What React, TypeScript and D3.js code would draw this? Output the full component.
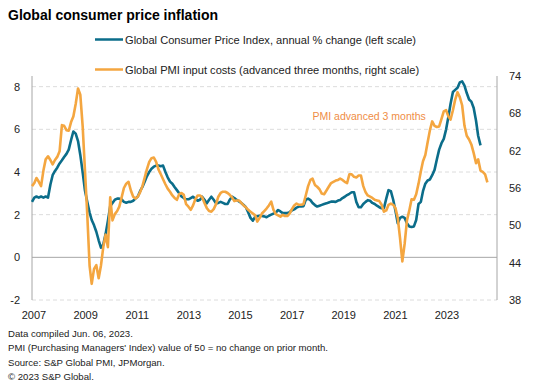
import React from "react";
import * as d3 from "d3";

// monthly, Jan 2007 - Apr 2023 (annual % change, left scale)
const cpiValues = [
  2.6, 2.8, 2.85, 2.8, 2.85, 2.8, 2.85, 2.8, 3.4, 3.85, 4.05, 4.2,
  4.4, 4.55, 4.7, 4.85, 5.05, 5.5, 5.9, 5.8, 5.45, 4.8, 4.0, 3.15,
  2.6, 2.1, 1.75, 1.5, 1.2, 0.8, 0.45, 0.6, 1.1, 1.7, 2.4, 2.55,
  2.7, 2.75, 2.75, 2.72, 2.6, 2.56, 2.6, 2.6, 2.65, 2.75, 2.85, 3.1,
  3.3, 3.55, 3.8, 4.0, 4.15, 4.25, 4.3, 4.3, 4.27, 4.3, 4.0, 3.75,
  3.55, 3.45, 3.3, 3.15, 3.0, 2.85, 2.78, 2.72, 2.72, 2.78, 2.84, 2.75,
  2.65, 2.7, 2.84, 2.7, 2.53, 2.7, 2.84, 2.7, 2.53, 2.55, 2.6, 2.55,
  2.5, 2.5, 2.7, 2.84, 2.78, 2.69, 2.62, 2.55, 2.45, 2.35, 2.1, 1.85,
  1.72, 1.9, 1.93, 1.95, 1.94, 1.92, 1.88, 1.95, 2.0, 2.05, 2.1, 2.22,
  2.15, 2.07, 2.07, 2.07, 2.12, 2.2, 2.25, 2.33, 2.38, 2.38, 2.4, 2.7,
  2.75, 2.68, 2.55, 2.45, 2.38, 2.42, 2.46, 2.5, 2.53, 2.57, 2.61, 2.61,
  2.6, 2.66, 2.69, 2.78, 2.84, 2.92, 2.98, 3.05, 3.05, 2.6, 2.35, 2.35,
  2.5, 2.6, 2.68, 2.65, 2.55, 2.5, 2.42, 2.35, 2.3, 2.3, 2.75, 3.15,
  3.1, 2.7, 2.2, 1.6, 1.85, 1.9, 1.85, 1.6, 1.45, 1.42, 1.45, 1.75,
  2.5, 2.6, 3.1, 3.45, 3.6, 3.65, 3.85, 4.1, 4.6, 5.05, 5.35, 5.55,
  6.0, 6.6, 7.2, 7.75, 7.85, 7.95, 8.2, 8.25, 8.05, 7.7, 7.4, 7.3,
  7.0, 6.4, 5.7, 5.25,
];

// monthly, Jan 2007 - Jul 2023 (PMI input costs advanced 3 months, right scale)
const pmiValues = [
  56.3, 56.8, 57.6, 57.0, 56.3, 58.8, 60.6, 61.1, 60.5, 59.8, 60.5, 61.0,
  61.9, 66.1, 66.0, 65.3, 65.2, 66.6, 67.5, 69.5, 72.0, 71.0, 66.0, 59.0,
  51.8, 43.5, 40.6, 43.0, 43.6, 41.5, 43.5, 46.5, 48.5, 46.5, 54.5, 50.8,
  51.8, 52.3, 53.0, 54.5, 56.0, 56.7, 57.0, 55.6, 54.6, 54.3, 54.6, 55.3,
  56.3, 57.7, 59.0, 60.2, 60.8, 60.9, 60.2, 59.0, 58.2, 57.4, 56.6, 55.9,
  55.4, 54.8, 54.4, 54.1, 55.0, 55.2, 54.9, 53.4, 53.0, 52.5, 53.2, 54.2,
  54.8, 54.8, 54.5, 53.6, 52.8, 52.3, 52.2, 52.6, 53.4, 54.6, 55.2, 55.4,
  55.4, 55.2, 54.9, 54.5, 53.9, 54.0, 54.0, 53.6, 53.2, 52.9, 52.5, 52.2,
  51.9, 51.6, 50.6, 51.2, 51.9, 52.3, 52.7, 53.2, 53.8, 52.5, 51.8, 51.6,
  51.4, 51.7, 51.5, 51.5, 51.9, 52.6, 53.2, 53.5, 53.3, 53.3, 53.4, 54.8,
  56.3, 57.3, 57.5, 56.5, 56.2, 55.8, 55.1, 55.0, 55.6, 56.2, 56.8, 57.0,
  57.2, 57.3, 57.5, 57.3, 57.0, 56.8, 58.2, 58.2, 57.8, 57.7, 58.0, 58.0,
  56.3, 55.3, 54.8, 54.6, 54.4, 54.1, 54.0, 53.9, 53.3, 52.2, 52.4, 53.3,
  53.5, 53.3, 52.8, 51.2, 48.0, 44.2, 47.0, 50.8, 52.4, 54.2, 54.1, 55.0,
  56.7, 58.7, 60.3, 61.3, 63.3, 65.3, 66.7, 66.0, 65.8, 65.9, 67.1, 68.3,
  68.5, 67.5, 67.0, 68.5, 70.2, 71.4, 70.6, 69.3, 66.0, 64.4, 63.8, 63.0,
  61.6, 60.0, 60.6, 58.8, 58.6, 58.2, 56.9,
];

const yearLabels = ["2007", "2009", "2011", "2013", "2015", "2017", "2019", "2021", "2023"];
const leftTicks = [-2, 0, 2, 4, 6, 8];
const rightTicks = [38, 44, 50, 56, 62, 68, 74];
const footnotes = [
  "Data compiled Jun. 06, 2023.",
  "PMI (Purchasing Managers' Index) value of 50 = no change on prior month.",
  "Source: S&P Global PMI, JPMorgan.",
  "\u00a9 2023 S&P Global.",
];

const BLUE = "#0b6d8a";
const ORANGE = "#f4a640";
const FONT = "'Liberation Sans', Arial, sans-serif";

const App = () => {
  const left = 32;
  const right = 497;
  const top = 76;
  const bottom = 300;

  const start = new Date(2007, 0, 1);
  const x = d3.scaleTime().domain([start, new Date(2023, 3, 1)]).range([left, 480.5]);
  const yL = d3.scaleLinear().domain([-2, 8.5]).range([bottom, top]);
  const yR = d3.scaleLinear().domain([38, 74]).range([bottom, top]);
  const xLab = d3.scalePoint<string>().domain(yearLabels).range([34, 447]);

  const month = (i: number) => new Date(2007, i, 1);

  const cpiLine = d3
    .line<number>()
    .x((_, i) => x(month(i)))
    .y((d) => yL(d));
  const pmiLine = d3
    .line<number>()
    .x((_, i) => x(month(i)))
    .y((d) => yR(d));

  return (
    <svg
      width={550}
      height={388}
      style={{ position: "absolute", left: 0, top: 0, background: "#fff" }}
      fontFamily={FONT}
    >
      <text x={8} y={20} fontSize={14} fontWeight="bold" fill="#000">
        Global consumer price inflation
      </text>

      {/* legend */}
      <line x1={95} x2={123} y1={39.5} y2={39.5} stroke={BLUE} strokeWidth={2.5} />
      <text x={125} y={43.5} fontSize={11.1} fill="#222">
        Global Consumer Price Index, annual % change (left scale)
      </text>
      <line x1={95} x2={123} y1={69.5} y2={69.5} stroke={ORANGE} strokeWidth={2.5} />
      <text x={125} y={73.5} fontSize={11.1} fill="#222">
        Global PMI input costs (advanced three months, right scale)
      </text>

      {/* gridlines */}
      {leftTicks.map((t) => (
        <line
          key={t}
          x1={left}
          x2={right}
          y1={yL(t)}
          y2={yL(t)}
          stroke={t === 0 ? "#a6a6a6" : "#dcdcdc"}
          strokeWidth={1}
          strokeDasharray={t === 0 ? undefined : "4,3"}
        />
      ))}

      {/* axes */}
      <line x1={left} x2={left} y1={top} y2={bottom} stroke="#a6a6a6" />
      <line x1={right} x2={right} y1={top} y2={bottom} stroke="#a6a6a6" />

      {leftTicks.map((t) => (
        <text key={t} x={20} y={yL(t) + 4} fontSize={11} textAnchor="end" fill="#222">
          {t}
        </text>
      ))}
      {rightTicks.map((t) => (
        <text key={t} x={509} y={yR(t) + 4} fontSize={11} fill="#222">
          {t}
        </text>
      ))}
      {yearLabels.map((l) => (
        <text key={l} x={xLab(l)} y={319} fontSize={11} textAnchor="middle" fill="#222">
          {l}
        </text>
      ))}

      {/* series */}
      <path d={cpiLine(cpiValues) ?? ""} fill="none" stroke={BLUE} strokeWidth={2.6} strokeLinejoin="round" />
      <path d={pmiLine(pmiValues) ?? ""} fill="none" stroke={ORANGE} strokeWidth={2.6} strokeLinejoin="round" />

      <text x={312.5} y={119.5} fontSize={10.5} fill="#ef8d45">
        PMI advanced 3 months
      </text>

      {footnotes.map((f, i) => (
        <text key={i} x={8} y={337 + i * 14.3} fontSize={9.6} fill="#222">
          {f}
        </text>
      ))}
    </svg>
  );
};

export default App;
